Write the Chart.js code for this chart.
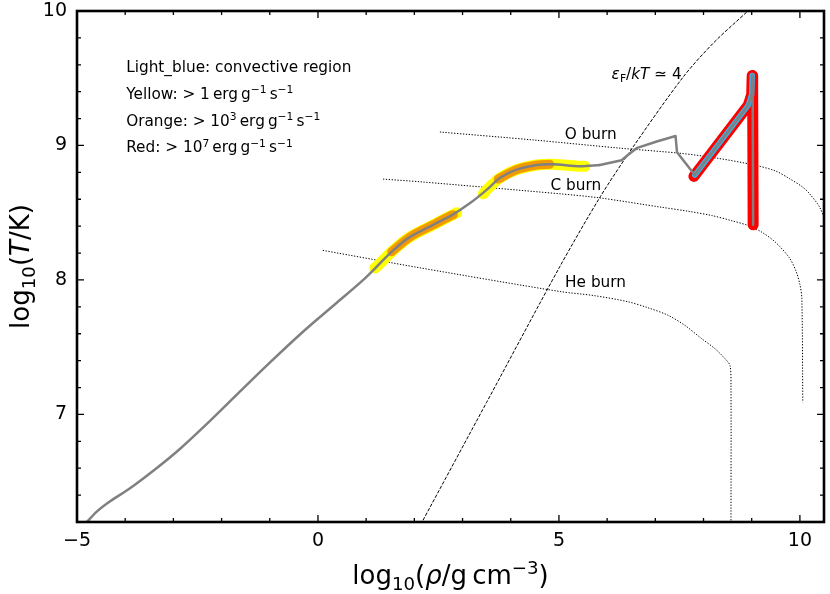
<!DOCTYPE html>
<html lang="en">
<head>
    <meta charset="UTF-8">
    <title>Stellar profile: log T vs log rho</title>
    <script src="https://cdn.jsdelivr.net/npm/chart.js"></script>
    <style>
        html, body { margin: 0; padding: 0; background: #fff; }
    </style>
</head>
<body>
    <canvas id="rhoTChart" width="830" height="594"></canvas>
    <script>
        // ---- data (log10 rho, log10 T) ----
        const trackRho = [-4.82, -4.59, -4.32, -3.90, -3.35, -2.86, -2.24, -1.69, -1.00, -0.31, 0.39, 0.94, 1.25, 1.56, 1.91, 2.39, 2.77, 3.15, 3.50, 3.78, 4.12, 4.54, 4.88, 5.44, 5.85, 6.30, 6.47, 6.61, 7.03, 7.42, 7.45, 7.82, 8.93, 9.00, 9.01, 9.02, 9.03];
        const trackT   = [6.19, 6.277, 6.352, 6.451, 6.60, 6.745, 6.952, 7.145, 7.385, 7.615, 7.83, 8.00, 8.11, 8.22, 8.32, 8.41, 8.48, 8.57, 8.67, 8.76, 8.82, 8.855, 8.86, 8.845, 8.855, 8.89, 8.94, 8.98, 9.03, 9.07, 8.95, 8.78, 9.30, 9.38, 9.52, 9.38, 8.41];
        const smoothEnd = 25; // points up to here are drawn as a smooth curve

        const yellow1Rho = [1.18, 1.25, 1.56, 1.91, 2.39, 2.77, 2.88];
        const yellow1T   = [8.09, 8.11, 8.22, 8.32, 8.41, 8.48, 8.50];
        const orange1Rho = [1.53, 1.91, 2.39, 2.77, 2.81];
        const orange1T   = [8.21, 8.32, 8.41, 8.48, 8.485];
        const yellow2Rho = [3.43, 3.50, 3.78, 4.12, 4.54, 4.88, 5.44, 5.54];
        const yellow2T   = [8.64, 8.67, 8.76, 8.82, 8.855, 8.86, 8.845, 8.845];
        const orange2Rho = [3.74, 4.12, 4.54, 4.81];
        const orange2T   = [8.75, 8.82, 8.855, 8.86];
        const redRho = [7.80, 8.93, 9.00, 9.01, 9.02, 9.03];
        const redT   = [8.77, 9.30, 9.38, 9.52, 9.38, 8.41];
        const blueRho = [7.82, 8.93, 9.00, 9.01];
        const blueT   = [8.78, 9.30, 9.38, 9.52];

        const oBurnRho = [2.53, 4.50, 6.27, 7.54, 8.31, 9.07, 9.49, 9.78, 10.06, 10.20, 10.41, 10.55];
        const oBurnT   = [9.10, 9.04, 8.98, 8.941, 8.904, 8.853, 8.811, 8.754, 8.69, 8.641, 8.541, 8.416];
        const cBurnRho = [1.35, 2.12, 5.04, 5.85, 7.12, 7.68, 8.17, 8.59, 8.94, 9.22, 9.50, 9.78, 9.92, 10.00, 10.04, 10.06];
        const cBurnT   = [8.75, 8.73, 8.64, 8.61, 8.541, 8.511, 8.479, 8.44, 8.403, 8.353, 8.278, 8.165, 8.065, 7.966, 7.864, 7.09];
        const heBurnRho = [0.10, 2.12, 5.02, 5.72, 6.42, 6.84, 7.26, 7.61, 7.96, 8.24, 8.45, 8.55, 8.57, 8.57];
        const heBurnT   = [8.22, 8.09, 7.914, 7.884, 7.839, 7.794, 7.738, 7.663, 7.564, 7.488, 7.413, 7.363, 7.20, 6.15];
        const degenRho = [2.13, 3.50, 5.02, 5.86, 6.54, 7.58, 8.20, 8.92];
        const degenT   = [6.18, 7.09, 8.10, 8.62, 8.99, 9.51, 9.76, 10.0];

        const xMajor = [-5, 0, 5, 10];
        const xMinor = [-4, -3, -2, -1, 1, 2, 3, 4, 6, 7, 8, 9];
        const yMajor = [7, 8, 9, 10];
        const yMinor = [6.2, 6.4, 6.6, 6.8, 7.2, 7.4, 7.6, 7.8, 8.2, 8.4, 8.6, 8.8, 9.2, 9.4, 9.6, 9.8];

        const noteRho = -3.98;
        const noteT = [9.543, 9.346, 9.145, 8.948];

        const FONT = "'DejaVu Sans', sans-serif";

        function pts(xs, ys) {
            return xs.map((x, i) => ({ x: x, y: ys[i] }));
        }

        function line(xs, ys, color, width, extra) {
            return Object.assign({
                data: pts(xs, ys),
                showLine: true,
                borderColor: color,
                borderWidth: width,
                pointRadius: 0,
                borderCapStyle: 'round',
                borderJoinStyle: 'round',
                tension: 0,
                fill: false
            }, extra || {});
        }

        const dotted = { borderDash: [1.3, 1.6], borderCapStyle: 'butt', tension: 0.3 };
        const hiSmooth = { tension: 0.3 };

        // draw text with italic / sub / sup pieces
        function drawRich(ctx, parts, x, y, size, align) {
            let total = 0;
            const items = parts.map(([t, k]) => {
                const small = (k === 'sub' || k === 'sup');
                const s = small ? size * 0.7 : size;
                const f = (k === 'i' ? 'italic ' : '') + s + 'px ' + FONT;
                ctx.font = f;
                const w = ctx.measureText(t).width;
                total += w;
                return { t: t, k: k, f: f, w: w };
            });
            let cx = align === 'center' ? x - total / 2 : x;
            items.forEach(it => {
                ctx.font = it.f;
                const dy = it.k === 'sub' ? size * 0.22 : (it.k === 'sup' ? -size * 0.38 : 0);
                ctx.fillText(it.t, cx, y + dy);
                cx += it.w;
            });
        }

        const sp = '\u2009';
        const notes = [
            [['Light_blue: convective region', '']],
            [['Yellow: > 1' + sp + 'erg' + sp + 'g', ''], ['\u22121', 'sup'], [sp + 's', ''], ['\u22121', 'sup']],
            [['Orange: > 10', ''], ['3', 'sup'], [sp + 'erg' + sp + 'g', ''], ['\u22121', 'sup'], [sp + 's', ''], ['\u22121', 'sup']],
            [['Red: > 10', ''], ['7', 'sup'], [sp + 'erg' + sp + 'g', ''], ['\u22121', 'sup'], [sp + 's', ''], ['\u22121', 'sup']]
        ];

        const labels = [
            { rho: 5.66, T: 9.046, parts: [['O burn', '']] },
            { rho: 5.35, T: 8.669, parts: [['C burn', '']] },
            { rho: 5.76, T: 7.946, parts: [['He burn', '']] },
            { rho: 6.82, T: 9.494, parts: [['\u03b5', 'i'], ['F', 'sub'], ['/', ''], ['kT', 'i'], [' \u2243 4', '']] }
        ];

        // frame, inward ticks, texts and axis titles
        const decorPlugin = {
            id: 'decor',
            afterDatasetsDraw(chart) {
                const ctx = chart.ctx;
                const a = chart.chartArea;
                const xs = chart.scales.x, ys = chart.scales.y;
                ctx.save();
                ctx.fillStyle = '#000';
                ctx.textBaseline = 'alphabetic';

                notes.forEach((parts, i) => {
                    drawRich(ctx, parts, xs.getPixelForValue(noteRho), ys.getPixelForValue(noteT[i]), 15.3, 'left');
                });
                labels.forEach(l => {
                    drawRich(ctx, l.parts, xs.getPixelForValue(l.rho), ys.getPixelForValue(l.T), 15.3, 'center');
                });

                // ticks pointing inward on all four sides
                ctx.strokeStyle = '#000';
                ctx.lineWidth = 1.3;
                ctx.beginPath();
                const xTick = (v, len) => {
                    const px = xs.getPixelForValue(v);
                    ctx.moveTo(px, a.bottom); ctx.lineTo(px, a.bottom - len);
                    ctx.moveTo(px, a.top); ctx.lineTo(px, a.top + len);
                };
                const yTick = (v, len) => {
                    const py = ys.getPixelForValue(v);
                    ctx.moveTo(a.left, py); ctx.lineTo(a.left + len, py);
                    ctx.moveTo(a.right, py); ctx.lineTo(a.right - len, py);
                };
                xMajor.forEach(v => xTick(v, 7));
                xMinor.forEach(v => xTick(v, 4));
                yMajor.forEach(v => yTick(v, 7));
                yMinor.forEach(v => yTick(v, 4));
                ctx.stroke();

                ctx.lineWidth = 2.6;
                ctx.strokeRect(a.left, a.top, a.right - a.left, a.bottom - a.top);

                // axis titles
                drawRich(ctx, [['log', ''], ['10', 'sub'], ['(', ''], ['\u03c1', 'i'], ['/g' + sp + 'cm', ''], ['\u22123', 'sup'], [')', '']],
                    (a.left + a.right) / 2, 584, 26, 'center');
                ctx.translate(29, (a.top + a.bottom) / 2);
                ctx.rotate(-Math.PI / 2);
                drawRich(ctx, [['log', ''], ['10', 'sub'], ['(', ''], ['T', 'i'], ['/K)', '']], 0, 0, 26, 'center');
                ctx.restore();
            }
        };

        const minusFmt = v => (v < 0 ? '\u2212' + Math.abs(v) : String(v));

        const ctx = document.getElementById('rhoTChart').getContext('2d');
        window.myChart = new Chart(ctx, {
            type: 'scatter',
            data: {
                datasets: [
                    // outer envelope part of the profile, smooth
                    line(trackRho.slice(0, smoothEnd), trackT.slice(0, smoothEnd), '#808080', 2.5, { tension: 0.3 }),
                    // inner part with sharp kinks
                    line(trackRho.slice(smoothEnd - 1), trackT.slice(smoothEnd - 1), '#808080', 2.5),
                    line(blueRho, blueT, '#3aaee0', 5.5),
                    line(redRho, redT, '#ff0000', 11),
                    line(orange1Rho, orange1T, '#f29a00', 9, hiSmooth),
                    line(orange2Rho, orange2T, '#f29a00', 9, hiSmooth),
                    line(yellow1Rho, yellow1T, '#ffff00', 11, hiSmooth),
                    line(yellow2Rho, yellow2T, '#ffff00', 11, hiSmooth),
                    line(oBurnRho, oBurnT, '#000', 1, dotted),
                    line(cBurnRho, cBurnT, '#000', 1, dotted),
                    line(heBurnRho, heBurnT, '#000', 1, dotted),
                    line(degenRho, degenT, '#000', 1, { borderDash: [3.5, 1.6], borderCapStyle: 'butt', tension: 0.3 })
                ]
            },
            options: {
                responsive: false,
                animation: false,
                elements: { line: { capBezierPoints: false } },
                layout: { padding: { top: 11, right: 6, left: 0, bottom: 0 } },
                plugins: { legend: { display: false }, tooltip: { enabled: false } },
                scales: {
                    x: {
                        type: 'linear', min: -5, max: 10.5,
                        grid: { display: false, drawTicks: false },
                        border: { display: false },
                        ticks: { color: '#000', font: { family: FONT, size: 19 }, padding: 8, callback: minusFmt },
                        afterBuildTicks: s => { s.ticks = xMajor.map(v => ({ value: v })); },
                        afterFit: s => { s.height = 72; s.paddingLeft = 0; s.paddingRight = 0; }
                    },
                    y: {
                        type: 'linear', min: 6.2, max: 10,
                        grid: { display: false, drawTicks: false },
                        border: { display: false },
                        ticks: { color: '#000', font: { family: FONT, size: 19 }, padding: 10, callback: minusFmt },
                        afterBuildTicks: s => { s.ticks = yMajor.map(v => ({ value: v })); },
                        afterFit: s => { s.width = 77; s.paddingTop = 0; s.paddingBottom = 0; }
                    }
                }
            },
            plugins: [decorPlugin]
        });
    </script>
</body>
</html>
